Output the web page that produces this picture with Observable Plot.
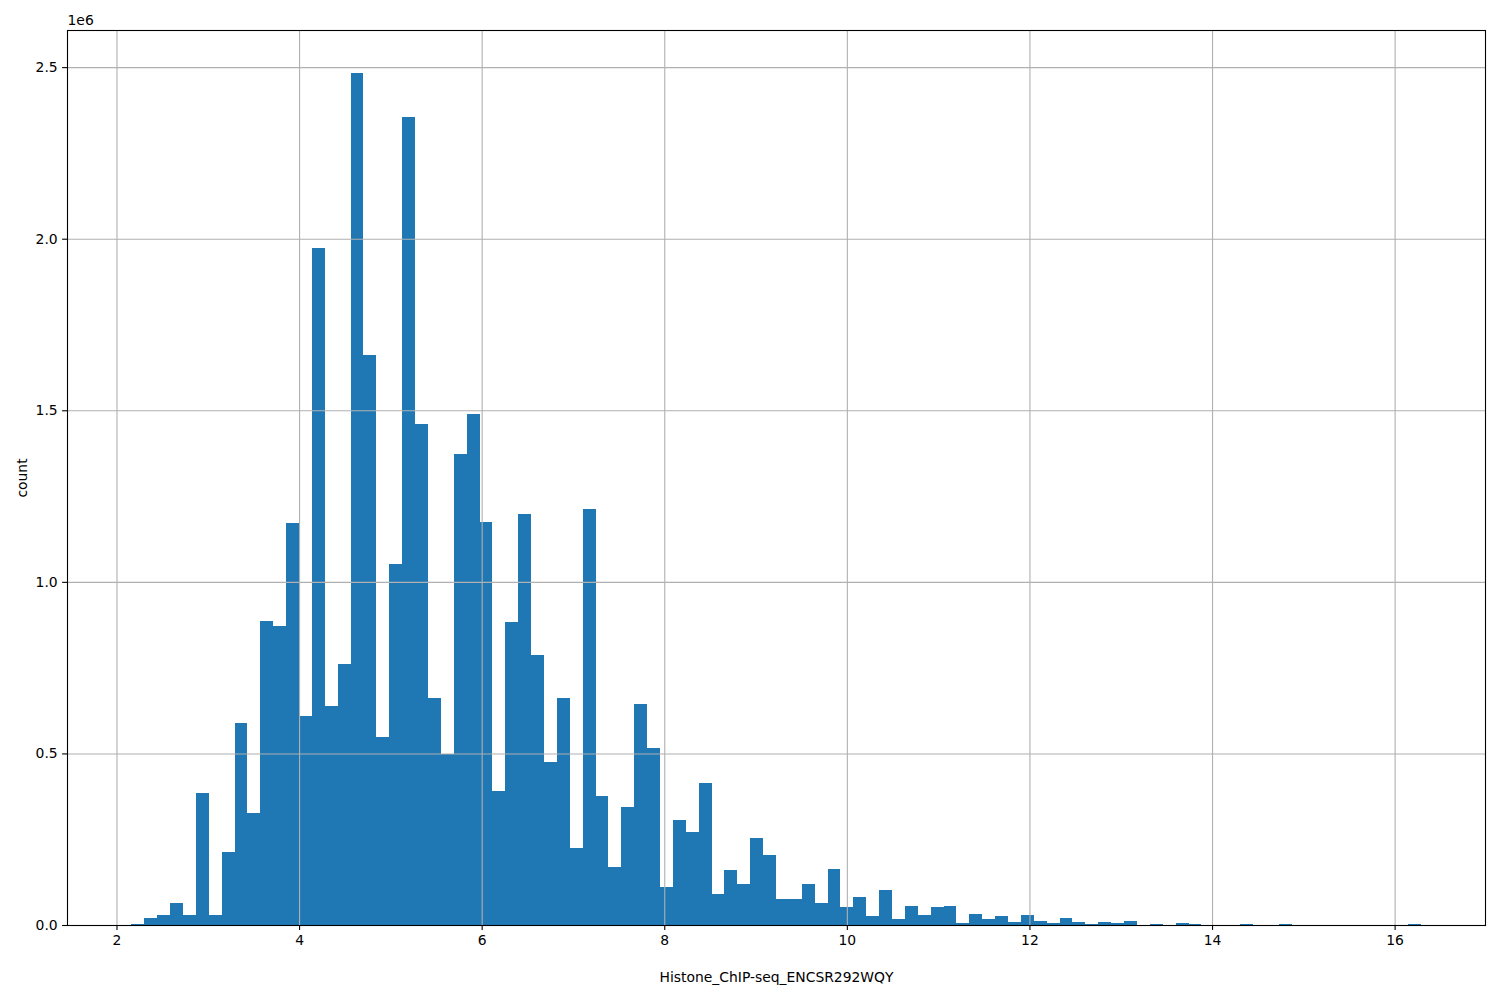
<!DOCTYPE html>
<html>
<head>
<meta charset="utf-8">
<script src="https://cdn.jsdelivr.net/npm/d3@7"></script>
<script src="https://cdn.jsdelivr.net/npm/@observablehq/plot@0.6"></script>
<style>
  html, body { margin: 0; padding: 0; background: #fff; }
  #chart { width: 1500px; height: 1000px; }
  svg { font-family: "DejaVu Sans", sans-serif; }
</style>
</head>
<body>
<div id="chart"></div>
<script>
// Histogram: 100 equal-width bins between xMin and xMax
const xMin = 2.164;
const xMax = 16.284;
const counts = [
  2000, 21000, 29000, 64000, 29000, 385000, 29000, 214000, 589000, 326000,
  886000, 872000, 1172000, 610000, 1974000, 637000, 762000, 2484000, 1662000, 547000,
  1051000, 2355000, 1460000, 661000, 497000, 1373000, 1489000, 1173000, 390000, 883000,
  1199000, 786000, 474000, 661000, 225000, 1213000, 375000, 169000, 344000, 643000,
  515000, 110000, 307000, 271000, 414000, 90000, 160000, 119000, 254000, 204000,
  76000, 76000, 119000, 64000, 163000, 52000, 81000, 26000, 102000, 17000,
  55000, 29000, 52000, 55000, 6000, 32000, 17500, 26000, 9000, 29000,
  12000, 6000, 20000, 9000, 2000, 9000, 6000, 12000, 1000, 3000,
  1000, 6000, 3000, 400, 400, 400, 3000, 400, 400, 3000,
  300, 300, 300, 300, 300, 300, 300, 300, 300, 3000
];
const xTicks = [2, 4, 6, 8, 10, 12, 14, 16];
const yTicks = [0, 500000, 1000000, 1500000, 2000000, 2500000];
const xLabel = "Histone_ChIP-seq_ENCSR292WQY";
const yLabel = "count";
const yOffsetLabel = "1e6";

const binW = (xMax - xMin) / counts.length;
const bins = counts.map((c, i) => ({x1: xMin + i * binW, x2: xMin + (i + 1) * binW, count: c}));
const pad = 0.05 * (xMax - xMin);
const yMax = d3.max(counts) * 1.05;

const fontSize = 13.9;
const tick = 4.9;
const gridColor = "#b0b0b0";

const chart = Plot.plot({
  width: 1500,
  height: 1000,
  marginLeft: 67,
  marginRight: 15,
  marginTop: 30,
  marginBottom: 75,
  style: {fontFamily: "DejaVu Sans, sans-serif", fontSize: fontSize + "px", color: "#000", background: "#fff"},
  x: {domain: [xMin - pad, xMax + pad]},
  y: {domain: [0, yMax]},
  marks: [
    Plot.rectY(bins, {x1: "x1", x2: "x2", y: "count", fill: "#1f77b4", inset: 0, shapeRendering: "crispEdges"}),
    Plot.ruleX(xTicks, {stroke: gridColor, strokeWidth: 1.1}),
    Plot.ruleY(yTicks, {stroke: gridColor, strokeWidth: 1.1}),
    Plot.frame({stroke: "#000", strokeWidth: 1.1}),
    Plot.axisX(xTicks, {
      tickSize: tick, tickPadding: 4.9, tickFormat: d => String(d),
      fontSize: fontSize, label: null, stroke: "#000", strokeWidth: 1.1
    }),
    Plot.axisY(yTicks, {
      tickSize: tick, tickPadding: 4.9, tickFormat: d => (d / 1e6).toFixed(1),
      fontSize: fontSize, label: null, stroke: "#000", strokeWidth: 1.1
    }),
    Plot.text([xLabel], {frameAnchor: "bottom", dy: 52, lineAnchor: "middle", textAnchor: "middle", text: d => d, fontSize: fontSize, fill: "#000"}),
    Plot.text([yLabel], {frameAnchor: "left", dx: -45, rotate: -90, lineAnchor: "middle", textAnchor: "middle", text: d => d, fontSize: fontSize, fill: "#000"}),
    Plot.text([yOffsetLabel], {frameAnchor: "top-left", dy: -10, lineAnchor: "middle", textAnchor: "start", text: d => d, fontSize: fontSize, fill: "#000"})
  ]
});
document.getElementById("chart").appendChild(chart);
</script>
</body>
</html>
